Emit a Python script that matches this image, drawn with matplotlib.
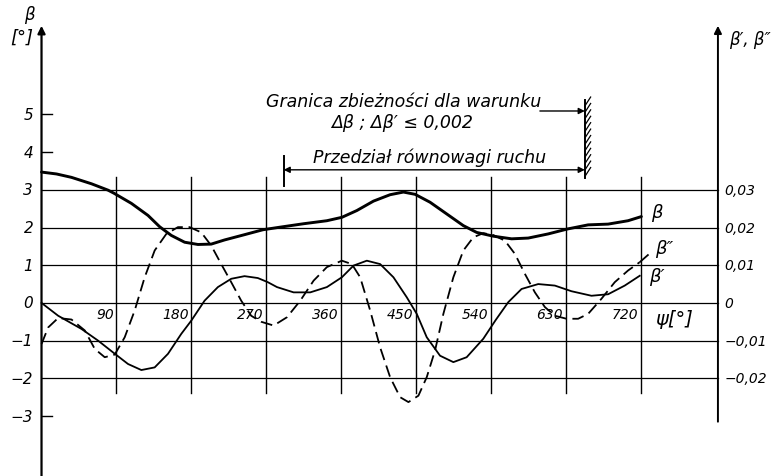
import matplotlib
matplotlib.use('Agg')
import matplotlib.pyplot as plt

# beta [deg] over psi [deg]
psi_beta = [0, 18, 36, 60, 80, 87, 108, 128, 142, 156, 172, 188, 204, 220, 244,
            266, 287, 315, 343, 361, 379, 399, 419, 435, 449, 467, 487, 507,
            523, 543, 565, 585, 609, 632, 657, 681, 705, 721]
beta = [3.47, 3.42, 3.33, 3.16, 2.99, 2.91, 2.64, 2.32, 2.02, 1.79, 1.61, 1.55,
        1.56, 1.67, 1.81, 1.94, 2.01, 2.10, 2.18, 2.27, 2.45, 2.70, 2.87, 2.94,
        2.88, 2.67, 2.36, 2.05, 1.87, 1.77, 1.70, 1.72, 1.83, 1.96, 2.07, 2.09,
        2.18, 2.29]

# beta' (right scale, x100)
psi_d1 = [0, 20, 48, 68, 87, 104, 120, 136, 152, 168, 180, 196, 212, 228, 244,
          260, 272, 283, 303, 323, 343, 361, 375, 391, 407, 423, 439, 451, 463,
          479, 495, 511, 531, 546, 561, 577, 597, 617, 637, 661, 681, 701, 719]
beta_d1 = [0.0, -0.34, -0.69, -1.00, -1.33, -1.62, -1.78, -1.71, -1.35, -0.82,
           -0.47, 0.06, 0.42, 0.64, 0.71, 0.66, 0.55, 0.42, 0.28, 0.28, 0.42,
           0.68, 0.99, 1.12, 1.03, 0.68, 0.15, -0.29, -0.91, -1.40, -1.57, -1.44,
           -0.95, -0.45, 0.02, 0.37, 0.50, 0.46, 0.31, 0.19, 0.23, 0.46, 0.72]

# beta'' (right scale, x100)
psi_d2 = [0, 8, 20, 36, 52, 64, 76, 88, 100, 112, 124, 136, 150, 164, 178, 192,
          204, 216, 228, 240, 252, 264, 279, 295, 311, 327, 343, 361, 373, 383,
          395, 407, 419, 431, 441, 453, 463, 473, 483, 495, 507, 519, 531, 543,
          557, 569, 581, 593, 605, 617, 631, 645, 657, 673, 689, 705, 719]
beta_d2 = [-1.09, -0.65, -0.40, -0.44, -0.73, -1.22, -1.44, -1.37, -0.91, -0.20,
           0.68, 1.39, 1.83, 2.01, 2.01, 1.87, 1.52, 1.03, 0.55, 0.06, -0.34,
           -0.50, -0.60, -0.38, 0.06, 0.59, 0.95, 1.12, 1.03, 0.68, -0.20, -1.18,
           -1.97, -2.50, -2.63, -2.46, -1.97, -1.26, -0.29, 0.68, 1.39, 1.74,
           1.85, 1.80, 1.65, 1.30, 0.77, 0.28, -0.11, -0.34, -0.42, -0.42, -0.29,
           0.11, 0.55, 0.86, 1.08]

psi_ticks = [90, 180, 270, 360, 450, 540, 630, 720]
beta_ticks = [5, 4, 3, 2, 1, 0, -1, -2, -3]
beta_labels = ['5', '4', '3', '2', '1', '0', '−1', '−2', '−3']
grid_levels = [3, 2, 1, 0, -1, -2]
right_ticks = [0.03, 0.02, 0.01, 0.0, -0.01, -0.02]
right_labels = ['0,03', '0,02', '0,01', '0', '−0,01', '−0,02']

RIGHT_X = 813      # position of the beta', beta'' axis
RIGHT_SCALE = 100  # beta' units -> beta units
DASH = (0, (6.5, 3.2))

font = dict(family='DejaVu Sans', style='italic', color='black')

fig = plt.figure(figsize=(7.78, 4.77), dpi=100)
ax = fig.add_axes([0, 0, 1, 1])
ax.set_xlim(-49.9, 885.2)
ax.set_ylim(-4.59, 8.06)
ax.axis('off')

# grid
for v in grid_levels:
    ax.plot([0, RIGHT_X], [v, v], color='black', lw=0.9)
for p in psi_ticks:
    ax.plot([p, p], [-2.4, 3.35], color='black', lw=1.0)

# axes with arrows
ax.annotate('', xy=(0, 7.35), xytext=(0, -4.7),
            arrowprops=dict(arrowstyle='-|>', lw=1.6, color='black',
                            mutation_scale=11, shrinkA=0, shrinkB=0))
ax.annotate('', xy=(RIGHT_X, 7.35), xytext=(RIGHT_X, -3.15),
            arrowprops=dict(arrowstyle='-|>', lw=1.4, color='black',
                            mutation_scale=11, shrinkA=0, shrinkB=0))

# left ticks and labels
for v, lab in zip(beta_ticks, beta_labels):
    if v not in grid_levels:
        ax.plot([0, 12], [v, v], color='black', lw=1.0)
    ax.text(-10, v, lab, ha='right', va='center', fontsize=11, **font)

# right labels
for v, lab in zip(right_ticks, right_labels):
    ax.text(RIGHT_X + 8, v * RIGHT_SCALE, lab, ha='left', va='center',
            fontsize=10, **font)

# psi labels
for p in psi_ticks:
    ax.text(p - 3, -0.12, str(p), ha='right', va='top', fontsize=10, **font)

# curves
ax.plot(psi_beta, beta, color='black', lw=2.1, solid_capstyle='round',
        solid_joinstyle='round')
ax.plot(psi_d1, beta_d1, color='black', lw=1.3, solid_joinstyle='round')
ax.plot(psi_d2, beta_d2, color='black', lw=1.3, linestyle=DASH)
ax.plot([psi_d2[-1], 734], [beta_d2[-1], 1.37], color='black', lw=1.3,
        linestyle=DASH)

# curve labels
ax.text(733, 2.4, 'β', ha='left', va='center', fontsize=13, **font)
ax.text(737, 1.45, 'β″', ha='left', va='center', fontsize=13, **font)
ax.text(730, 0.72, 'β′', ha='left', va='center', fontsize=13, **font)
ax.text(738, -0.4, 'ψ[°]', ha='left', va='center', fontsize=14, **font)

# axis titles
ax.text(-15, 7.65, 'β', ha='center', va='center', fontsize=12, **font)
ax.text(-24, 7.05, '[°]', ha='center', va='center', fontsize=13, **font)
ax.text(RIGHT_X + 13, 7.0, 'β′, β″', ha='left', va='center',
        fontsize=12, **font)

# convergence limit annotation
WALL = 653
ax.text(435, 5.36, 'Granica zbieżności dla warunku', ha='center',
        va='center', fontsize=12.5, **font)
ax.text(433, 4.8, 'Δβ ; Δβ′ ≤ 0,002', ha='center', va='center',
        fontsize=12.5, **font)
ax.text(467, 3.87, 'Przedział równowagi ruchu', ha='center', va='center',
        fontsize=12.5, **font)

ax.plot([WALL, WALL], [3.3, 5.37], color='black', lw=1.4)
for k in range(12):
    y0 = 3.35 + k * 0.17
    ax.plot([WALL, WALL + 7], [y0, y0 + 0.24], color='black', lw=0.9)
ax.plot([291, 291], [3.1, 3.9], color='black', lw=1.4)
ax.annotate('', xy=(291, 3.53), xytext=(WALL, 3.53),
            arrowprops=dict(arrowstyle='<|-|>', lw=1.0, color='black',
                            mutation_scale=9, shrinkA=0, shrinkB=0))
ax.annotate('', xy=(WALL, 5.09), xytext=(599, 5.09),
            arrowprops=dict(arrowstyle='-|>', lw=1.0, color='black',
                            mutation_scale=9, shrinkA=0, shrinkB=0))

fig.savefig('out.png', dpi=100, facecolor='white')
